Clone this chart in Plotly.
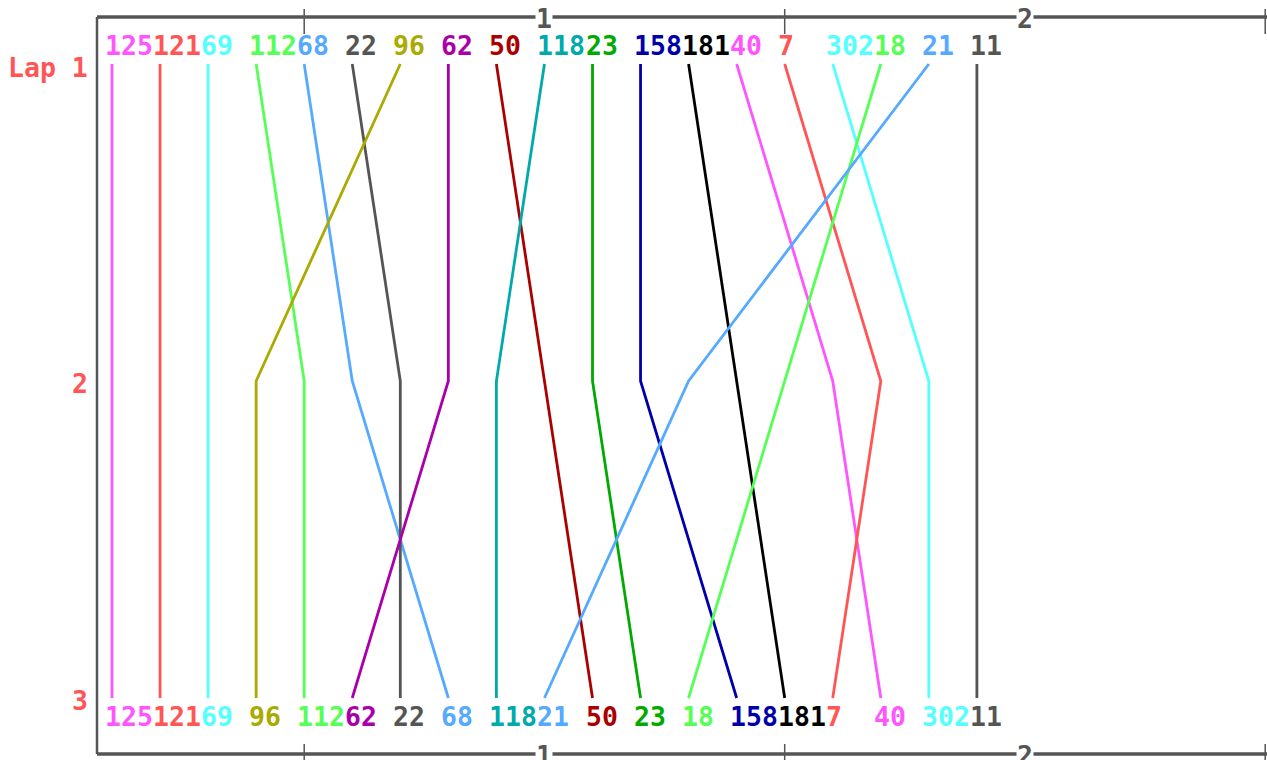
import plotly.graph_objects as go

# ---------------- data ----------------
laps = [1, 2, 3]
lap_labels = ["Lap 1", "2", "3"]
order_lap1 = [125, 121, 69, 112, 68, 22, 96, 62, 50, 118, 23, 158, 181, 40, 7, 302, 18, 21, 11]
order_lap2 = [125, 121, 69, 96, 112, 68, 22, 62, 118, 50, 23, 158, 21, 181, 18, 40, 7, 302, 11]
order_lap3 = [125, 121, 69, 96, 112, 62, 22, 68, 118, 21, 50, 23, 18, 158, 181, 7, 40, 302, 11]
car_colors = {
    125: "#FF55FF", 121: "#FF5555", 69: "#55FFFF", 112: "#55FF55", 68: "#55AAFF",
    22: "#555555", 96: "#AAAA00", 62: "#AA00AA", 50: "#AA0000", 118: "#00AAAA",
    23: "#00AA00", 158: "#0000AA", 181: "#000000", 40: "#FF55FF", 7: "#FF5555",
    302: "#55FFFF", 18: "#55FF55", 21: "#55AAFF", 11: "#555555",
}
major_ticks = [10, 20]
major_tick_text = ["1", "2"]
minor_ticks = [5, 15, 25]

# ---------------- layout geometry ----------------
W, H = 1267, 760
PX_PER_POS = 48.05
X_POS1 = 112.0
Y_LAP1, Y_LAP3 = 64.0, 698.0
PX_PER_LAP = (Y_LAP3 - Y_LAP1) / 2.0

def kx(px):
    return 1 + (px - X_POS1) / PX_PER_POS

def ly(py):
    return 1 + (py - Y_LAP1) / PX_PER_LAP

AXIS_GRAY = "#555555"
FONT = "DejaVu Sans Mono"
FS = 26.5

fig = go.Figure()

orders = [order_lap1, order_lap2, order_lap3]
for car in order_lap1:
    xs = [o.index(car) + 1 for o in orders]
    fig.add_trace(go.Scatter(
        x=xs, y=laps, mode="lines",
        line=dict(color=car_colors[car], width=2.8),
        hoverinfo="skip", showlegend=False,
    ))

annotations = []
# car labels top and bottom
for pos, car in enumerate(order_lap1, start=1):
    annotations.append(dict(x=pos, y=1, xref="x", yref="y", text="<b>%d</b>" % car,
                            showarrow=False, xanchor="left", yanchor="middle",
                            xshift=-9, yshift=19,
                            font=dict(family=FONT, size=FS, color=car_colors[car])))
for pos, car in enumerate(order_lap3, start=1):
    annotations.append(dict(x=pos, y=3, xref="x", yref="y", text="<b>%d</b>" % car,
                            showarrow=False, xanchor="left", yanchor="middle",
                            xshift=-9, yshift=-18,
                            font=dict(family=FONT, size=FS, color=car_colors[car])))
# lap labels
for lap, lbl in zip(laps, lap_labels):
    annotations.append(dict(x=kx(97), y=lap, xref="x", yref="y", text="<b>%s</b>" % lbl,
                            showarrow=False, xanchor="right", yanchor="middle",
                            xshift=-7, yshift=-3 if lap == 1 else -2,
                            font=dict(family=FONT, size=FS, color="#FF5555")))

y_top = ly(17)
y_bot = ly(754)
x_left = kx(97)
x_right = kx(W + 5)

shapes = [
    dict(type="line", xref="x", yref="y", x0=x_left, x1=x_right, y0=y_top, y1=y_top,
         line=dict(color=AXIS_GRAY, width=3.5), layer="below"),
    dict(type="line", xref="x", yref="y", x0=x_left, x1=x_right, y0=y_bot, y1=y_bot,
         line=dict(color=AXIS_GRAY, width=3.5), layer="below"),
    dict(type="line", xref="x", yref="y", x0=x_left, x1=x_left, y0=y_top, y1=y_bot,
         line=dict(color=AXIS_GRAY, width=2.5), layer="below"),
]
for t in minor_ticks:
    shapes.append(dict(type="line", xref="x", yref="y", x0=t, x1=t, y0=ly(9), y1=ly(34),
                       line=dict(color=AXIS_GRAY, width=1.5), layer="below"))
    shapes.append(dict(type="line", xref="x", yref="y", x0=t, x1=t, y0=ly(744), y1=ly(762),
                       line=dict(color=AXIS_GRAY, width=1.5), layer="below"))
for t, txt in zip(major_ticks, major_tick_text):
    for yy in (y_top, y_bot):
        annotations.append(dict(x=t, y=yy, xref="x", yref="y", text="<b>%s</b>" % txt,
                                showarrow=False, xanchor="center", yanchor="middle",
                                bgcolor="white", borderpad=0, yshift=-1,
                                font=dict(family=FONT, size=FS, color=AXIS_GRAY)))

fig.update_layout(
    width=W, height=H,
    margin=dict(l=0, r=0, t=0, b=0),
    paper_bgcolor="white", plot_bgcolor="white",
    xaxis=dict(range=[kx(0), kx(W)], visible=False, fixedrange=True),
    yaxis=dict(range=[ly(H), ly(0)], visible=False, fixedrange=True),
    shapes=shapes, annotations=annotations,
    showlegend=False,
)

fig.write_html("out.html", config={"displayModeBar": False},
               post_script="document.body.style.margin='0px';document.body.style.overflow='hidden';")
